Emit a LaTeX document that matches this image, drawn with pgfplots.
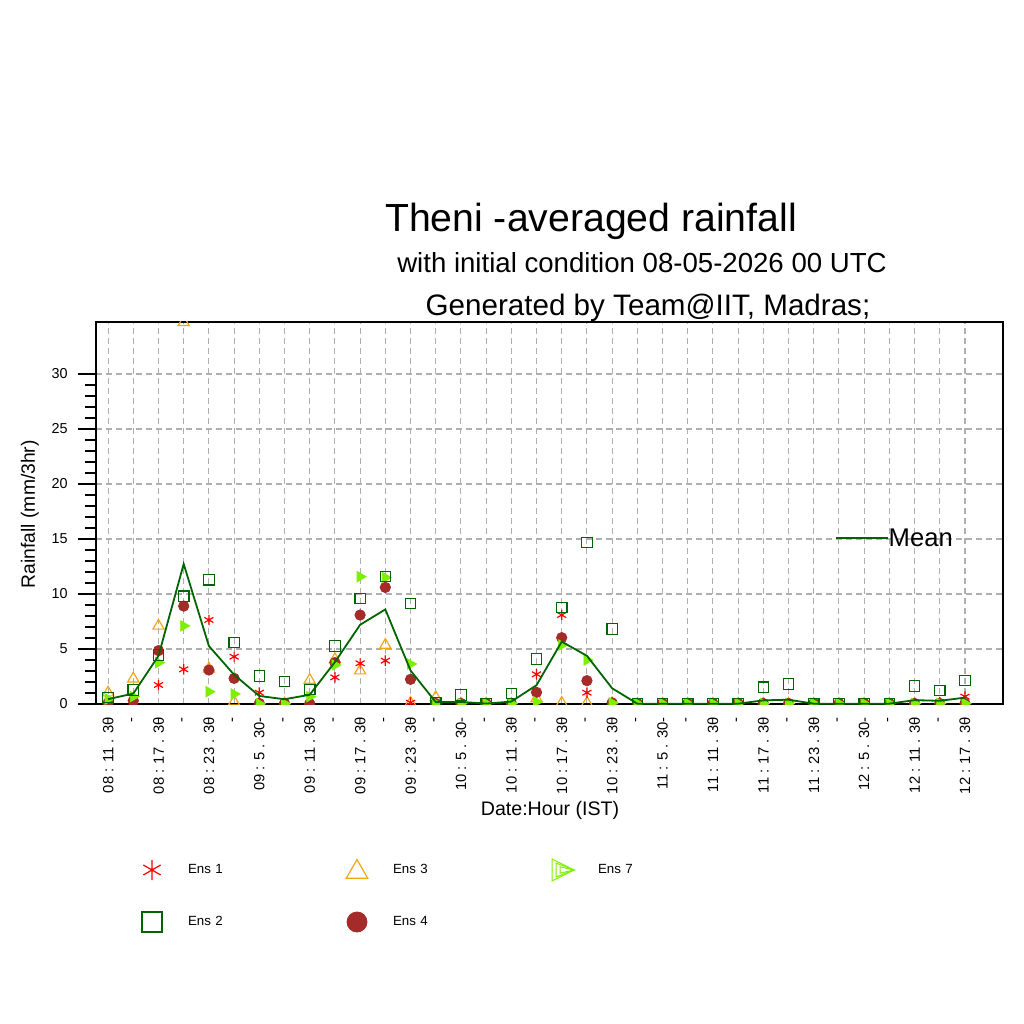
\documentclass[border=0pt]{standalone}
\usepackage{fontspec}
\setmainfont{Liberation Sans}
\usepackage{pgfplots}
\pgfplotsset{compat=1.18}
\usepackage{pgfplotstable}

\definecolor{ensred}{RGB}{255,0,0}
\definecolor{ensgreen}{RGB}{0,100,0}
\definecolor{ensorange}{RGB}{245,165,20}
\definecolor{ensbrown}{RGB}{165,42,42}
\definecolor{enslime}{RGB}{124,240,0}
\definecolor{gridgray}{RGB}{175,175,175}

% 3-hourly rainfall (mm/3hr), five members and their mean
\pgfplotstableread{
t  e1    e2     e3     e4     e7     mean
0  0.00  0.60   1.03   0.10   0.45   0.44
1  0.20  1.27   2.30   0.30   0.67   0.95
2  1.73  4.45   7.10   4.85   3.76   4.38
3  3.15  9.80   34.70  8.90   7.10   12.73
4  7.64  11.30  3.20   3.09   1.12   5.27
5  4.30  5.58   0.20   2.33   0.91   2.66
6  1.03  2.55   0.02   0.05   0.02   0.73
7  0.02  2.03   0.02   0.05   0.03   0.43
8  0.02  1.33   2.18   0.02   0.67   0.84
9  2.42  5.27   4.06   3.76   3.55   3.81
10 3.70  9.60   3.03   8.09   11.58  7.20
11 3.94  11.58  5.36   10.60  11.50  8.60
12 0.12  9.15   0.10   2.24   3.64   3.05
13 0.05  0.10   0.60   0.05   0.05   0.17
14 0.02  0.82   0.02   0.05   0.05   0.19
15 0.02  0.05   0.02   0.05   0.05   0.04
16 0.02  0.97   0.00   0.05   0.05   0.22
17 2.70  4.09   0.50   1.06   0.20   1.71
18 8.09  8.79   0.10   6.03   5.36   5.67
19 1.03  14.67  0.10   2.12   4.00   4.38
20 0.10  6.82   0.05   0.10   0.10   1.43
21 0.02  0.05   0.00   0.05   0.05   0.03
22 0.02  0.02   0.00   0.05   0.05   0.03
23 0.02  0.02   0.00   0.05   0.05   0.03
24 0.02  0.02   0.00   0.05   0.05   0.03
25 0.02  0.05   0.00   0.05   0.05   0.03
26 0.02  1.52   0.00   0.05   0.05   0.33
27 0.02  1.82   0.00   0.05   0.05   0.39
28 0.02  0.05   0.00   0.05   0.05   0.03
29 0.02  0.02   0.00   0.05   0.05   0.03
30 0.02  0.02   0.00   0.05   0.05   0.03
31 0.02  0.05   0.00   0.05   0.05   0.03
32 0.02  1.64   0.00   0.05   0.05   0.35
33 0.15  1.21   0.00   0.05   0.05   0.29
34 0.67  2.12   0.00   0.05   0.05   0.58
}\rain

\begin{document}
\begin{tikzpicture}
\path[use as bounding box] (0,0) rectangle (512pt,512pt);

\begin{axis}[
  at={(48pt,160pt)}, anchor=south west,
  scale only axis, width=453.5pt, height=191pt,
  xmin=-0.48, xmax=35.51, ymin=0, ymax=34.73,
  clip marker paths=true,
  xtick={0,...,34},
  xticklabels={08 : 11 . 3θ,-,08 : 17 . 3θ,-,08 : 23 . 3θ,-,09 : 5 . 30-,-,
    09 : 11 . 3θ,-,09 : 17 . 3θ,-,09 : 23 . 3θ,-,10 : 5 . 30-,-,
    10 : 11 . 3θ,-,10 : 17 . 3θ,-,10 : 23 . 3θ,-,11 : 5 . 30-,-,
    11 : 11 . 3θ,-,11 : 17 . 3θ,-,11 : 23 . 3θ,-,12 : 5 . 30-,-,
    12 : 11 . 3θ,-,12 : 17 . 3θ},
  xtick style={draw=none},
  xticklabel style={rotate=90, anchor=east, inner sep=0pt, xshift=2.5pt,
    font=\fontsize{7.4}{8}\selectfont},
  ytick={0,5,...,30}, minor y tick num=4,
  ytick pos=left, tick align=outside,
  major tick length=9pt, minor tick length=5.5pt,
  every tick/.style={black, line width=0.6pt},
  yticklabel style={inner sep=0pt, xshift=-5pt, font=\fontsize{7.2}{8}\selectfont},
  /pgf/number format/assume math mode=true,
  grid=major,
  major grid style={gridgray, dash pattern=on 3pt off 2pt, line width=0.55pt},
  axis line style={line width=0.6pt},
  xlabel={Date:Hour (IST)},
  xlabel style={at={(axis description cs:0.5006,-0.293)}, anchor=base,
    inner sep=0pt, font=\fontsize{9.8}{11}\selectfont},
  ylabel={Rainfall (mm/3hr)},
  ylabel style={at={(axis description cs:-0.0728,0.497)}, anchor=center,
    inner sep=0pt, font=\fontsize{9.65}{11}\selectfont},
  legend columns=3,
  legend cell align=left,
  legend style={at={(axis description cs:0.0397,-0.3822)}, anchor=north west,
    draw=none, fill=none, inner sep=0pt, outer sep=0pt,
    font=\fontsize{6.65}{8}\selectfont, row sep=6pt,
    nodes={inner sep=0pt, text width=74.5pt, align=left, anchor=west},
    /tikz/every odd column/.append style={column sep=8pt}},
]

% legend entries
\addlegendimage{only marks, mark=asterisk, ensred, mark options={line width=0.6pt},
  legend image code/.code={\path[draw=none, fill=none] (-10pt,-10pt) rectangle (10pt,10pt);
    \draw[mark size=5pt] plot coordinates {(0pt,0pt)};}}
\addlegendentry{Ens 1}
\addlegendimage{only marks, mark=triangle, ensorange, mark options={line width=0.6pt},
  legend image code/.code={\path[draw=none, fill=none] (-10pt,-10pt) rectangle (10pt,10pt);
    \draw[mark size=6.2pt] plot coordinates {(0pt,-1pt)};}}
\addlegendentry{Ens 3}
\addlegendimage{legend image code/.code={\path[draw=none, fill=none] (-10pt,-10pt) rectangle (10pt,10pt);
    \draw[enslime, line width=0.5pt] (-5pt,5.5pt) -- (6pt,0pt) -- (-5pt,-5.5pt) -- cycle;
    \draw[enslime, line width=0.5pt] (-3pt,3.5pt) -- (6pt,0pt) -- (-3pt,-3.5pt) -- cycle;
    \draw[enslime, line width=0.5pt] (-1pt,1.6pt) -- (6pt,0pt) -- (-1pt,-1.6pt) -- cycle;}}
\addlegendentry{Ens 7}
\addlegendimage{only marks, mark=square, ensgreen, mark options={line width=0.6pt},
  legend image code/.code={\path[draw=none, fill=none] (-10pt,-10pt) rectangle (10pt,10pt);
    \draw[mark size=5pt] plot coordinates {(0pt,0pt)};}}
\addlegendentry{Ens 2}
\addlegendimage{only marks, mark=*, ensbrown, mark options={fill=ensbrown, draw=ensbrown},
  legend image code/.code={\path[draw=none, fill=none] (-10pt,-10pt) rectangle (10pt,10pt);
    \draw[mark size=5pt] plot coordinates {(0pt,0pt)};}}
\addlegendentry{Ens 4}

% members
\addplot[forget plot, only marks, mark=triangle, ensorange, mark size=3.2pt,
  mark options={line width=0.6pt}] table[x=t, y=e3] {\rain};
\addplot[forget plot, only marks, mark=asterisk, ensred, mark size=2.6pt,
  mark options={line width=0.6pt}] table[x=t, y=e1] {\rain};
\addplot[forget plot, only marks, mark=*, ensbrown, mark size=2.6pt,
  mark options={fill=ensbrown, draw=ensbrown}] table[x=t, y=e4] {\rain};
\addplot[forget plot, only marks, mark=triangle*, enslime, mark size=3pt,
  mark options={rotate=-90, fill=enslime, draw=enslime}] table[x=t, y=e7] {\rain};
\addplot[forget plot, only marks, mark=square, ensgreen, mark size=2.6pt,
  mark options={line width=0.6pt}] table[x=t, y=e2] {\rain};

% ensemble mean
\addplot[forget plot, no marks, ensgreen, line width=0.9pt] table[x=t, y=mean] {\rain};

% key for the mean line
\draw[ensgreen, line width=0.9pt] (axis cs:28.88,15.09) -- (axis cs:30.94,15.09);
\node[anchor=west, inner sep=0pt, font=\fontsize{12.8}{14}\selectfont]
  at (axis cs:30.96,15.09) {Mean};
\end{axis}

\node[anchor=base, inner sep=0pt, font=\fontsize{19.6}{22}\selectfont]
  at (295.5pt,396pt) {Theni -averaged rainfall};
\node[anchor=base, inner sep=0pt, font=\fontsize{13.8}{16}\selectfont]
  at (321pt,375.5pt) {with initial condition 08-05-2026 00 UTC};
\node[anchor=base, inner sep=0pt, font=\fontsize{14.8}{16}\selectfont]
  at (324pt,354pt) {Generated by Team@IIT, Madras;};
\end{tikzpicture}
\end{document}
